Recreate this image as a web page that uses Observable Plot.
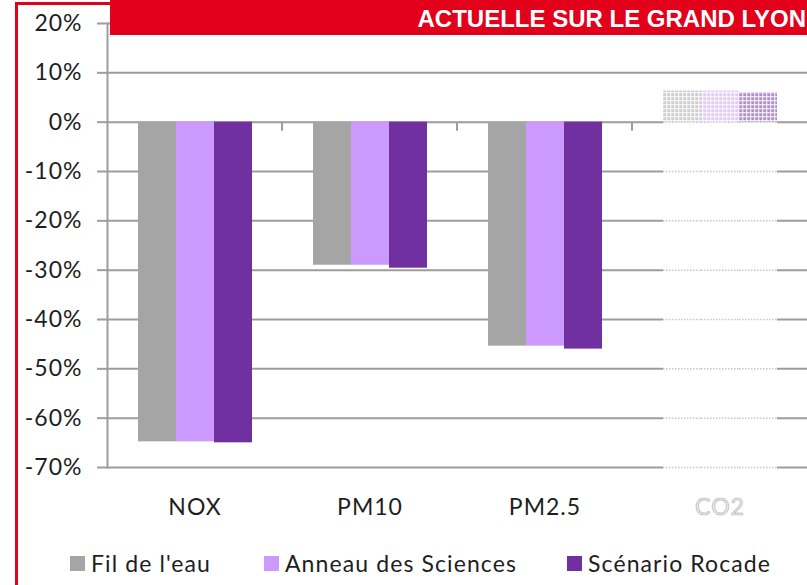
<!DOCTYPE html>
<html>
<head>
<meta charset="utf-8">
<script src="https://cdn.jsdelivr.net/npm/d3@7"></script>
<script src="https://cdn.jsdelivr.net/npm/@observablehq/plot@0.6"></script>
<style>
  html, body { margin: 0; padding: 0; background: #fff; }
  #wrap { position: relative; width: 807px; height: 585px; overflow: hidden; font-family: Lato, "Open Sans", sans-serif; }
  #chart { position: absolute; left: 0; top: 0; }
  #border { position: absolute; left: 15px; top: 2px; width: 200px; height: 620px; border-left: 3px solid #e2001a; border-top: 3px solid #e2001a; box-sizing: border-box; z-index: 2; }
  #header { position: absolute; left: 110px; top: 0; width: 697px; height: 35px; background: #e2001a; color: #fff; font-family: "Liberation Sans", Arial, sans-serif; font-weight: bold; font-size: 24px; line-height: 38px; text-align: right; white-space: nowrap; z-index: 3; }
  #header span { padding-right: 1px; }
  #legend { position: absolute; left: 0; top: 545px; width: 807px; height: 36px; z-index: 2; }
  .item { position: absolute; top: 0; height: 36px; display: flex; align-items: center; font-size: 23px; letter-spacing: 1.1px; color: #1e1e1e; white-space: nowrap; }
  .sw { width: 15px; height: 15px; margin-right: 6px; }
</style>
</head>
<body>
<svg width="0" height="0" style="position:absolute">
  <defs>
    <pattern id="dither" width="4" height="4" patternUnits="userSpaceOnUse">
      <rect x="0" y="0" width="4" height="1.3" fill="#fff" fill-opacity="0.75"></rect>
      <rect x="0" y="0" width="1.3" height="4" fill="#fff" fill-opacity="0.75"></rect>
    </pattern>
  </defs>
</svg>
<div id="wrap">
  <div id="chart"></div>
  <div id="border"></div>
  <div id="header"><span>ACTUELLE SUR LE GRAND LYON</span></div>
  <div id="legend"></div>
</div>
<script>
// ---- data ----
const categories = ["NOX", "PM10", "PM2.5", "CO2"];
const series = ["Fil de l'eau", "Anneau des Sciences", "Scénario Rocade"];
const filDeLeau = [-64.8, -29.0, -45.4, 6.3];
const anneauDesSciences = [-64.8, -29.0, -45.4, 6.3];
const scenarioRocade = [-65.0, -29.6, -46.0, 6.0];
const yTicks = [20, 10, 0, -10, -20, -30, -40, -50, -60, -70];
const colors = ["#a5a5a5", "#cc99ff", "#7030a0"];
const fadedCategory = "CO2";

const valuesBySeries = [filDeLeau, anneauDesSciences, scenarioRocade];
const rows = [];
categories.forEach((cat, i) => {
  series.forEach((s, j) => rows.push({cat, series: s, value: valuesBySeries[j][i]}));
});
const solid = rows.filter(d => d.cat !== fadedCategory);
const faded = rows.filter(d => d.cat === fadedCategory);
const fadedGrid = [];
series.forEach(s => yTicks.filter(v => v <= 0).forEach(v => fadedGrid.push({cat: fadedCategory, series: s, v})));

const gridColor = "#9d9d9d";

const plot = Plot.plot({
  width: 807,
  height: 530,
  marginTop: 23,
  marginBottom: 63,
  marginLeft: 106,
  marginRight: 0,
  style: {fontFamily: "Lato, 'Open Sans', sans-serif", fontSize: "23px", letterSpacing: "1px", color: "#1e1e1e", background: "transparent"},
  fx: {domain: categories, padding: 0, label: null},
  x: {domain: series, paddingInner: 0, paddingOuter: 0.76, axis: null},
  y: {domain: [-70, 20], axis: null},
  color: {domain: series, range: colors},
  marks: [
    Plot.ruleY(yTicks, {stroke: gridColor, strokeWidth: 2}),
    Plot.tickY(fadedGrid, {fx: "cat", x: "series", y: "v", stroke: "#fff", strokeWidth: 4}),
    Plot.tickY(fadedGrid, {fx: "cat", x: "series", y: "v", stroke: "#c8c8c8", strokeWidth: 1.5, strokeDasharray: "1.5,1.5"}),
    Plot.barY(solid, {fx: "cat", x: "series", y: "value", fill: "series"}),
    Plot.barY(faded, {fx: "cat", x: "series", y: "value", fill: "series", fillOpacity: 0.55}),
    Plot.barY(faded, {fx: "cat", x: "series", y: "value", fill: "url(#dither)"}),
    Plot.frame({anchor: "left", facetAnchor: "left", stroke: gridColor, strokeWidth: 2}),
    Plot.axisY({ticks: yTicks, tickFormat: d => d + "%", tickSize: 10, tickPadding: 15, stroke: gridColor, strokeWidth: 2, fill: "#1e1e1e", fontSize: 23}),
    Plot.axisFx({anchor: "bottom", tickSize: 0, tickPadding: 31, label: null, fontSize: 23, fill: "#1e1e1e"})
  ]
});
document.getElementById("chart").appendChild(plot);

// small separator ticks on the 0% line between categories, using Plot's own scales
const fxs = plot.scale("fx"), ys = plot.scale("y");
const svg = d3.select(plot);
categories.slice(1).forEach(cat => {
  const x = fxs.apply(cat);
  const y0 = ys.apply(0);
  svg.append("line").attr("x1", x).attr("x2", x).attr("y1", y0).attr("y2", y0 + 9)
    .attr("stroke", gridColor).attr("stroke-width", 2);
});
// faded CO2 label
svg.selectAll("text").filter(function() { return this.textContent === fadedCategory; })
  .attr("fill", "#eeeeee").attr("stroke", "#b5b5b5").attr("stroke-width", 0.7);

// legend
const legend = document.getElementById("legend");
const legendLeft = [70, 264, 567];
series.forEach((s, i) => {
  const item = document.createElement("div");
  item.className = "item";
  item.style.left = legendLeft[i] + "px";
  const sw = document.createElement("div");
  sw.className = "sw";
  sw.style.background = colors[i];
  const t = document.createElement("span");
  t.textContent = s;
  item.appendChild(sw);
  item.appendChild(t);
  legend.appendChild(item);
});
</script>
</body>
</html>
